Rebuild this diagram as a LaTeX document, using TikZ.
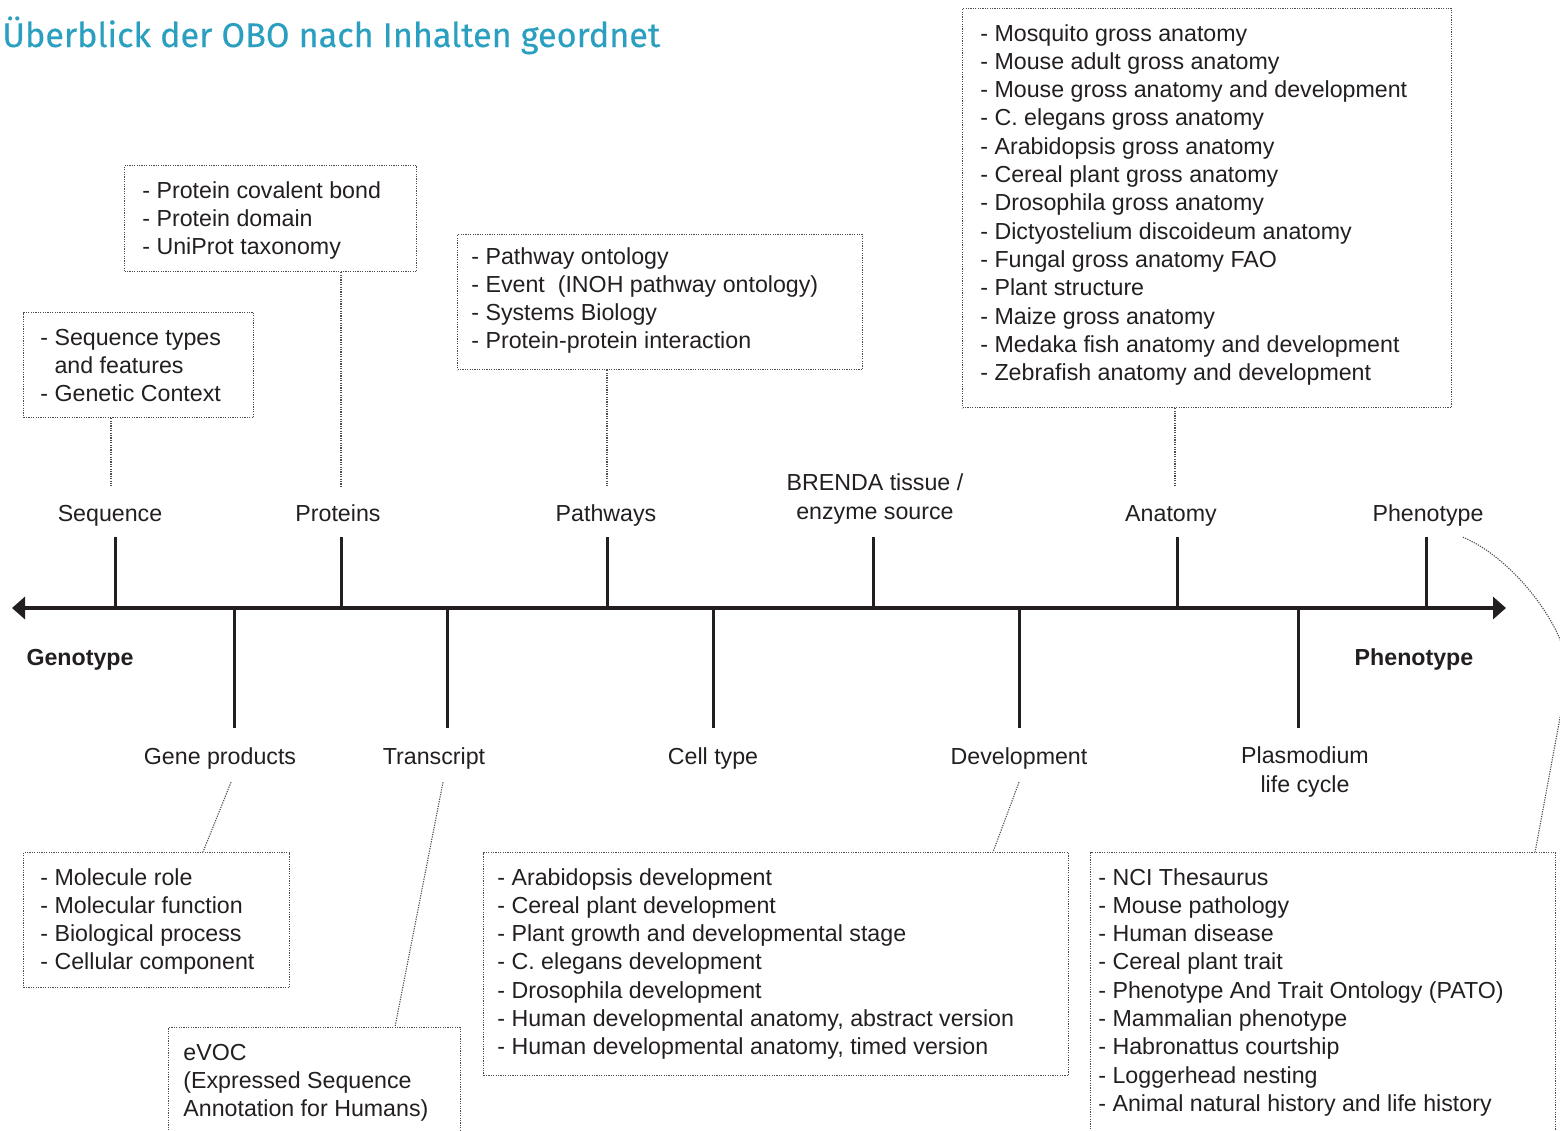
\documentclass[tikz,border=0pt]{standalone}
\usepackage{fontspec}
\setmainfont{Liberation Sans}
\newfontfamily\titlefont[FakeBold=0.3]{Fira Sans}
\usetikzlibrary{arrows.meta,calc}
\definecolor{ink}{HTML}{231F20}
\definecolor{titleteal}{HTML}{2A9FBF}

\tikzset{
  obox/.style={draw=ink!80, line width=0.55pt, dash pattern=on 0.6pt off 0.6pt,
               anchor=north west, inner sep=0pt},
  conn/.style={draw=ink!80, line width=0.55pt, dash pattern=on 0.6pt off 0.6pt},
  item/.style={font=\fontsize{11.6}{14.25}\selectfont, text=ink, inner sep=0pt, anchor=base west},
  lbl/.style={font=\fontsize{11.6}{14.25}\selectfont, text=ink, inner sep=0pt, anchor=base, align=center},
  pole/.style={font=\bfseries\fontsize{11.6}{14.25}\selectfont, text=ink, inner sep=0pt, anchor=base},
  axisline/.style={line width=2pt, draw=ink,
     {Triangle[length=6.5pt,width=11pt]}-{Triangle[length=6.5pt,width=11pt]}},
  tickline/.style={line width=1.5pt, draw=ink},
}

% list lines inside a box: #1 box name, #2/#3 offset of first baseline, #4 entries
\newcommand\boxlines[4]{%
  \foreach \t [count=\i] in {#4}
    \node[item] (#1-\i) at ($(#1.north west)+(#2,#3+28.3*\i-28.3)$) {\t};
}

\begin{document}
\begin{tikzpicture}[x=0.5pt,y=-0.5pt]
\useasboundingbox (0,0) rectangle (1560,1131);

% title
\node[font=\titlefont\fontsize{17.1}{21}\selectfont, text=titleteal, anchor=base west, inner sep=0pt]
  (title) at (2,47) {Überblick der OBO nach Inhalten geordnet};

% main axis
\coordinate (gl) at (12,608);
\coordinate (pr) at (1506,608);
\draw[axisline] (gl) -- (pr);

% ticks above the axis
\foreach \x in {115,341,607,873,1177,1426}
  \draw[tickline] (\x,537) -- (\x,608);
% ticks below the axis
\foreach \x in {234,447,713,1019,1298}
  \draw[tickline] (\x,608) -- (\x,728);

% labels above (base anchor of a two-line label is its last line)
\node[lbl] (seqlbl)  at (110,521)  {Sequence};
\node[lbl] (protlbl) at (338,521)  {Proteins};
\node[lbl] (pathlbl) at (606,521)  {Pathways};
\node[lbl] (brlbl)   at (875,519)  {BRENDA tissue /\\enzyme source};
\node[lbl] (anatlbl) at (1171,521) {Anatomy};
\node[lbl] (phlbl)   at (1428,521) {Phenotype};

% labels below
\node[lbl] (gplbl)   at (220,764)  {Gene products};
\node[lbl] (trlbl)   at (434,764)  {Transcript};
\node[lbl] (ctlbl)   at (713,764)  {Cell type};
\node[lbl] (devlbl)  at (1019,764) {Development};
\node[lbl] (pllbl)   at (1305,792) {Plasmodium\\life cycle};

% poles
\node[pole] (geno)  at (80,665)   {Genotype};
\node[pole] (pheno) at (1414,665) {Phenotype};

% boxes
\node[obox, minimum width=115pt,   minimum height=52.5pt]  (seqbox)  at (23,312)   {};
\node[obox, minimum width=146pt,   minimum height=53pt]    (protbox) at (124,165)  {};
\node[obox, minimum width=202.5pt, minimum height=67.5pt]  (pathbox) at (457,234)  {};
\node[obox, minimum width=244.5pt, minimum height=199.5pt] (anatbox) at (962,8)    {};
\node[obox, minimum width=133pt,   minimum height=67.5pt]  (gpbox)   at (23,852)   {};
\node[obox, minimum width=146pt,   minimum height=100pt]   (evocbox) at (168,1027) {};
\node[obox, minimum width=292.5pt, minimum height=111.5pt] (devbox)  at (483,852)  {};
\node[obox, minimum width=232.5pt, minimum height=200pt]   (phenbox) at (1090,852) {};

% box contents
\boxlines{seqbox}{17}{33}{{- Sequence types},{\phantom{- }and features},{- Genetic Context}}
\boxlines{protbox}{18}{33}{{- Protein covalent bond},{- Protein domain},{- UniProt taxonomy}}
\boxlines{pathbox}{14}{30}{{- Pathway ontology},{- Event\ \ (INOH pathway ontology)},{- Systems Biology},{- Protein-protein interaction}}
\boxlines{anatbox}{18}{33}{{- Mosquito gross anatomy},{- Mouse adult gross anatomy},{- Mouse gross anatomy and development},{- C. elegans gross anatomy},{- Arabidopsis gross anatomy},{- Cereal plant gross anatomy},{- Drosophila gross anatomy},{- Dictyostelium discoideum anatomy},{- Fungal gross anatomy FAO},{- Plant structure},{- Maize gross anatomy},{- Medaka fish anatomy and development},{- Zebrafish anatomy and development}}
\boxlines{gpbox}{17}{33}{{- Molecule role},{- Molecular function},{- Biological process},{- Cellular component}}
\boxlines{evocbox}{15}{33}{{eVOC},{(Expressed Sequence},{Annotation for Humans)}}
\boxlines{devbox}{14}{33}{{- Arabidopsis development},{- Cereal plant development},{- Plant growth and developmental stage},{- C. elegans development},{- Drosophila development},{- Human developmental anatomy, abstract version},{- Human developmental anatomy, timed version}}
\boxlines{phenbox}{8}{33}{{- NCI Thesaurus},{- Mouse pathology},{- Human disease},{- Cereal plant trait},{- Phenotype And Trait Ontology (PATO)},{- Mammalian phenotype},{- Habronattus courtship},{- Loggerhead nesting},{- Animal natural history and life history}}

% dotted connectors
\draw[conn] ([xshift=0.5pt]seqlbl.north |- seqbox.south) -- ([xshift=0.5pt,yshift=9pt]seqlbl.north);
\draw[conn] ([xshift=1.5pt]protlbl.north |- protbox.south) -- ([xshift=1.5pt,yshift=9pt]protlbl.north);
\draw[conn] ([xshift=0.5pt]pathlbl.north |- pathbox.south) -- ([xshift=0.5pt,yshift=9pt]pathlbl.north);
\draw[conn] ([xshift=2pt]anatlbl.north |- anatbox.south) -- ([xshift=2pt,yshift=9pt]anatlbl.north);
\draw[conn] ($(gplbl.south)+(11,13)$) -- ($(gpbox.north west)+(180,0)$);
\draw[conn] ($(trlbl.south)+(9,13)$) -- ($(evocbox.north west)+(227,0)$);
\draw[conn] ($(devlbl.south)+(0,13)$) -- ($(devbox.north west)+(510,0)$);
\draw[conn] ($(phlbl.south east)+(-21,11)$) .. controls (1518,560) and (1575,640) .. (1567,680)
            -- ($(phenbox.north east)+(-21,0)$);
\end{tikzpicture}
\end{document}
